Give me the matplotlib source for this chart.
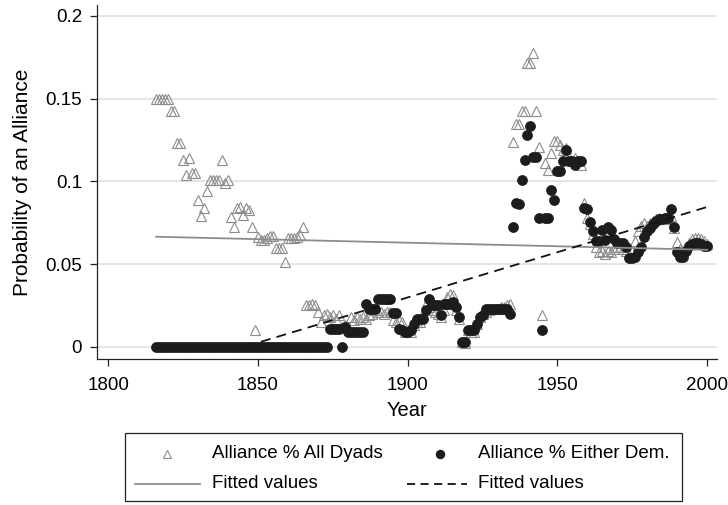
import matplotlib
matplotlib.use("Agg")
import matplotlib.pyplot as plt
from matplotlib.lines import Line2D
from matplotlib.patches import Rectangle

plt.rcParams['font.family'] = ['Liberation Sans', 'DejaVu Sans']

# ---------------- data ----------------
years = list(range(1816, 2001))

alliance_all = [
    .150, .150, .150, .150,
    .150, .1425, .1425, .123, .123, .113, .104, .114, .105, .105,
    .089, .079, .084, .094, .101, .101, .101, .101, .113, .099,
    .101, .0786, .0726, .0837, .0847, .0796, .0837, .0826, .0722, .010,
    .0665, .0645, .0645, .0655, .067, .067, .0595, .0595, .0595, .0515,
    .0655, .066, .066, .0665, .0675, .0726, .025, .025, .026, .025,
    .021, .015, .019, .020, .018, .019, .017, .019, .012, .013,
    .012, .018, .016, .018, .017, .018, .017, .019, .020, .022,
    .021, .021, .020, .021, .021, .016, .015, .016, .015, .009,
    .010, .009, .013, .015, .015, .020, .026, .024, .022, .021,
    .020, .018, .022, .030, .032, .031, .022, .017, .003, .002,
    .010, .009, .009, .014, .018, .020, .021, .022, .023, .023,
    .023, .024, .024, .025, .026, .1236, .1345, .1345, .1427, .1427,
    .1713, .1713, .1774, .1427, .1206, .019, .111, .107, .117, .1245,
    .1245, .122, .119, .120, .115, .112, .114, .112, .110, .0867,
    .0776, .074, .068, .060, .057, .058, .056, .058, .057, .059,
    .060, .060, .059, .058, .056, .058, .064, .070, .073, .075,
    .073, .075, .076, .077, .078, .077, .078, .077, .079, .072,
    .0635, .059, .058, .060, .063, .065, .066, .066, .065, .064,
    .062,
]

alliance_dem = [0.0] * 58 + [
    .0105, .0105, .0105, .0105, 0.0, .012,
    .0087, .0087, .0087, .0087, .0087, .0087, .0256, .0226, .0226, .0226,
    .029, .029, .029, .029, .029, .0206, .0206, .011, .010, .009,
    .009, .010, .014, .017, .017, .017, .022, .029, .025, .025,
    .025, .019, .026, .026, .026, .027, .024, .018, .003, .003,
    .010, .010, .010, .014, .018, .019, .023, .023, .023, .023,
    .023, .023, .023, .023, .020, .0726, .087, .086, .1008, .113,
    .128, .1336, .115, .115, .0776, .010, .078, .0776, .0948, .089,
    .106, .106, .112, .119, .112, .112, .110, .112, .112, .084,
    .083, .0756, .070, .064, .064, .0705, .0645, .0726, .0705, .065,
    .063, .063, .063, .060, .0534, .0534, .0544, .057, .0605, .0665,
    .070, .072, .074, .076, .077, .077, .078, .078, .083, .0722,
    .057, .054, .054, .058, .061, .062, .063, .063, .062, .061,
    .061,
]

fit_all_years = [1816, 2000]
fit_all_values = [0.0665, 0.0586]
fit_dem_years = [1851, 2000]
fit_dem_values = [0.0030, 0.0845]

x_ticks = [1800, 1850, 1900, 1950, 2000]
y_ticks = [0, 0.05, 0.1, 0.15, 0.2]
y_tick_labels = ['0', '0.05', '0.1', '0.15', '0.2']

legend_labels = ['Alliance % All Dyads', 'Alliance % Either Dem.',
                 'Fitted values', 'Fitted values']

# ---------------- figure ----------------
W, H = 728, 505
fig = plt.figure(figsize=(W / 100, H / 100), dpi=100)
ax = fig.add_axes([0.133, 0.2885, 0.852, 0.7016])

tri_col = '#8c8c8c'
dot_col = '#1c1c1c'
fit_col = '#8c8c8c'
dash_col = '#111111'

ax.plot(years, alliance_all, linestyle='none', marker='^', ms=7.2,
        mfc='none', mec=tri_col, mew=0.8, zorder=3)
ax.plot(years, alliance_dem, linestyle='none', marker='o', ms=7.2,
        mfc=dot_col, mec=dot_col, mew=0.5, zorder=4)
ax.plot(fit_all_years, fit_all_values, color=fit_col, lw=1.3, zorder=5)
ax.plot(fit_dem_years, fit_dem_values, color=dash_col, lw=1.3,
        linestyle=(0, (5.5, 3.5)), zorder=5)

ax.set_xlim(1796.2, 2003.3)
ax.set_ylim(-0.0076, 0.2066)
ax.set_xticks(x_ticks)
ax.set_yticks(y_ticks)
ax.set_yticklabels(y_tick_labels)
ax.grid(axis='y', color='#e3e3e3', lw=1.3, zorder=0)
ax.set_axisbelow(True)

for s in ['top', 'right']:
    ax.spines[s].set_visible(False)
for s in ['left', 'bottom']:
    ax.spines[s].set_linewidth(0.9)
    ax.spines[s].set_color('#222222')

ax.tick_params(axis='both', direction='out', length=5, width=0.9,
               labelsize=13.5, color='#222222')
ax.tick_params(axis='y', pad=5.5)
ax.tick_params(axis='x', pad=8)
ax.set_xlabel('Year', fontsize=14.5, labelpad=5)
ax.set_ylabel('Probability of an Alliance', fontsize=15, labelpad=10)

# ---------------- legend (drawn in figure pixels) ----------------
def fx(px):
    return px / W

def fy(py):
    return 1 - py / H

fig.patches.append(Rectangle((fx(125), fy(501)), fx(682) - fx(125), fy(433) - fy(501),
                             transform=fig.transFigure, fill=False,
                             edgecolor='#222222', lw=0.9))
row1, row2 = 454, 484
fig.lines.append(Line2D([fx(167)], [fy(row1)], transform=fig.transFigure,
                        linestyle='none', marker='^', ms=5.5, mfc='none',
                        mec=tri_col, mew=0.8))
fig.lines.append(Line2D([fx(135), fx(200)], [fy(row2), fy(row2)],
                        transform=fig.transFigure, color=fit_col, lw=1.3))
fig.lines.append(Line2D([fx(440)], [fy(row1)], transform=fig.transFigure,
                        linestyle='none', marker='o', ms=5.8, mfc=dot_col,
                        mec=dot_col))
fig.lines.append(Line2D([fx(407), fx(467)], [fy(row2), fy(row2)],
                        transform=fig.transFigure, color=dash_col, lw=1.3,
                        linestyle=(0, (4.5, 3))))
text_kw = dict(fontsize=13.5, va='center', ha='left')
fig.text(fx(212), fy(row1), legend_labels[0], **text_kw)
fig.text(fx(478), fy(row1), legend_labels[1], **text_kw)
fig.text(fx(212), fy(row2), legend_labels[2], **text_kw)
fig.text(fx(478), fy(row2), legend_labels[3], **text_kw)

fig.savefig('out.png', dpi=100)
